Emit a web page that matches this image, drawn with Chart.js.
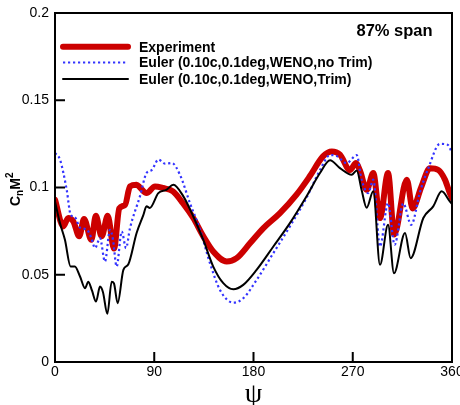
<!DOCTYPE html>
<html>
<head>
<meta charset="utf-8">
<script src="https://cdn.jsdelivr.net/npm/chart.js"></script>
<style>
  body { margin: 0; padding: 0; background: #fff; }
  canvas { display: block; }
</style>
</head>
<body>
<canvas id="chart" width="460" height="405"></canvas>
<script>
// azimuth (deg) and CnM^2
const psiExp = [0, 7.5, 12, 16.6, 22, 26.3, 33, 37, 42.3, 47.8, 53.5, 58.3, 63.5, 68, 74, 77, 83, 90.7, 98, 107, 116, 125.4, 134.5, 143.5, 155.7, 164.7, 176.8, 189, 204, 219, 231, 243, 251, 258.4, 267.5, 273, 276.6, 282.6, 288.6, 294.7, 302, 307.6, 319, 324.3, 332, 340, 347.6, 353.6, 358, 360];
const cnExp = [0.093, 0.0777, 0.0825, 0.0806, 0.072, 0.082, 0.070, 0.0838, 0.072, 0.0838, 0.065, 0.088, 0.090, 0.1006, 0.1016, 0.100, 0.0968, 0.1006, 0.0997, 0.0978, 0.091, 0.0825, 0.072, 0.0633, 0.0576, 0.0595, 0.068, 0.0767, 0.0853, 0.0959, 0.1064, 0.1178, 0.1207, 0.1188, 0.110, 0.114, 0.1096, 0.0987, 0.1083, 0.0825, 0.1083, 0.073, 0.1045, 0.088, 0.100, 0.111, 0.110, 0.1045, 0.0968, 0.094];

const psiNoTrim = [0, 4.5, 10.6, 14.2, 18, 22.7, 28.7, 33, 36.3, 40.8, 45.3, 49.9, 52.6, 55.9, 60.5, 64.4, 68, 77, 83, 87.7, 93.7, 100, 106, 113.3, 122.4, 131.5, 140.5, 149.6, 161.7, 170.7, 182.8, 198, 213, 228, 240.3, 249.4, 255.5, 264.5, 273.6, 278, 284, 288.6, 294.7, 302, 308, 315.8, 323, 331, 338.5, 349, 356, 360];
const cnNoTrim = [0.1198, 0.116, 0.0987, 0.0844, 0.083, 0.077, 0.076, 0.071, 0.0653, 0.071, 0.0576, 0.0758, 0.070, 0.0547, 0.0748, 0.0653, 0.0767, 0.0949, 0.1083, 0.110, 0.116, 0.1136, 0.114, 0.1073, 0.091, 0.0758, 0.0567, 0.0413, 0.034, 0.0365, 0.047, 0.0624, 0.0777, 0.094, 0.110, 0.1186, 0.118, 0.114, 0.1186, 0.1045, 0.0968, 0.1045, 0.0662, 0.091, 0.0672, 0.0909, 0.0786, 0.0975, 0.111, 0.125, 0.1245, 0.120];

const psiTrim = [0, 4.5, 9, 14.2, 18, 22.7, 27.2, 30.2, 33.5, 37.2, 40.8, 43.5, 47.5, 51.4, 53.5, 56.8, 62, 66.5, 74, 80, 83, 86, 93.7, 101, 107.3, 116.4, 125.4, 134.5, 143.5, 152.6, 161.7, 170.7, 182.8, 198, 213, 228, 240.3, 249.4, 258.4, 269, 273.6, 278, 282.6, 288.6, 294.7, 302, 307.4, 317.4, 322.5, 334, 343, 350.6, 358, 360];
const cnTrim = [0.092, 0.0796, 0.070, 0.0547, 0.0547, 0.049, 0.0423, 0.046, 0.041, 0.0346, 0.0432, 0.040, 0.0276, 0.046, 0.045, 0.0337, 0.0528, 0.056, 0.0739, 0.084, 0.0892, 0.0883, 0.0968, 0.0987, 0.1016, 0.0949, 0.0834, 0.070, 0.0547, 0.0452, 0.0417, 0.0442, 0.0528, 0.0662, 0.0796, 0.0949, 0.1083, 0.1156, 0.1111, 0.1073, 0.1098, 0.0987, 0.0884, 0.0978, 0.0557, 0.0786, 0.0509, 0.0739, 0.0595, 0.0825, 0.0892, 0.0978, 0.092, 0.0905];

const seriesLabels = ['Experiment', 'Euler (0.10c,0.1deg,WENO,no Trim)', 'Euler (0.10c,0.1deg,WENO,Trim)'];
const xTicks = [0, 90, 180, 270, 360];
const yTicks = [0, 0.05, 0.1, 0.15, 0.2];

const pts = (xs, ys) => xs.map((x, i) => ({ x: x, y: ys[i] }));

// frame, inward ticks, legend and axis titles
const decor = {
  id: 'decor',
  afterDatasetsDraw(chart) {
    const { ctx, chartArea: a, scales } = chart;
    ctx.save();
    ctx.strokeStyle = '#000';
    ctx.lineWidth = 2;
    ctx.strokeRect(a.left, a.top, a.right - a.left, a.bottom - a.top);

    ctx.beginPath();
    xTicks.slice(1, -1).forEach(v => {
      const x = scales.x.getPixelForValue(v);
      ctx.moveTo(x, a.bottom);
      ctx.lineTo(x, a.bottom - 10);
    });
    yTicks.slice(0, -1).forEach(v => {
      const y = scales.y.getPixelForValue(v);
      ctx.moveTo(a.left, y);
      ctx.lineTo(a.left + 10, y);
    });
    ctx.stroke();

    // legend
    const rows = [46.7, 62.5, 79];
    chart.data.datasets.forEach((ds, i) => {
      ctx.beginPath();
      ctx.strokeStyle = ds.borderColor;
      ctx.lineWidth = ds.borderWidth;
      ctx.lineCap = ds.borderDash ? 'butt' : 'round';
      ctx.setLineDash(ds.borderDash || []);
      ctx.moveTo(63, rows[i]);
      ctx.lineTo(128, rows[i]);
      ctx.stroke();
      ctx.setLineDash([]);
      ctx.fillStyle = '#000';
      ctx.font = 'bold 14px "Liberation Sans", Arial, sans-serif';
      ctx.textBaseline = 'middle';
      ctx.textAlign = 'left';
      ctx.fillText(ds.label, 139, rows[i] + 1);
    });

    ctx.font = 'bold 16.5px "Liberation Sans", Arial, sans-serif';
    ctx.textBaseline = 'middle';
    ctx.fillText('87% span', 356.5, 31);

    // x title
    ctx.font = '28px "Liberation Serif", "DejaVu Serif", serif';
    ctx.textAlign = 'center';
    ctx.textBaseline = 'alphabetic';
    ctx.fillText('\u03C8', (a.left + a.right) / 2, 402);

    // y title: C_n M^2, rotated
    ctx.translate(20, 206);
    ctx.rotate(-Math.PI / 2);
    ctx.textAlign = 'left';
    let x = 0;
    const part = (t, font, dy) => {
      ctx.font = font;
      ctx.fillText(t, x, dy);
      x += ctx.measureText(t).width;
    };
    part('C', 'bold 14px "Liberation Sans", Arial, sans-serif', 0);
    part('n', 'bold 10px "Liberation Sans", Arial, sans-serif', 3);
    part('M', 'bold 14px "Liberation Sans", Arial, sans-serif', 0);
    part('2', 'bold 10px "Liberation Sans", Arial, sans-serif', -7);
    ctx.restore();
  }
};

const tickFont = { family: '"Liberation Sans", Arial, sans-serif', size: 14 };

new Chart(document.getElementById('chart'), {
  type: 'line',
  data: {
    datasets: [
      {
        label: seriesLabels[0],
        data: pts(psiExp, cnExp),
        borderColor: '#cc0000',
        borderWidth: 6,
        borderCapStyle: 'round',
        order: 3
      },
      {
        label: seriesLabels[1],
        data: pts(psiNoTrim, cnNoTrim),
        borderColor: '#3333ff',
        borderWidth: 2.2,
        borderDash: [2.2, 2.8],
        borderCapStyle: 'butt',
        order: 2
      },
      {
        label: seriesLabels[2],
        data: pts(psiTrim, cnTrim),
        borderColor: '#000000',
        borderWidth: 2,
        borderCapStyle: 'round',
        order: 1
      }
    ]
  },
  options: {
    responsive: false,
    animation: false,
    events: [],
    layout: { padding: { top: 13, right: 8, bottom: 0, left: 0 } },
    elements: {
      point: { radius: 0 },
      line: { cubicInterpolationMode: 'monotone', fill: false, borderJoinStyle: 'round' }
    },
    plugins: { legend: { display: false }, tooltip: { enabled: false } },
    scales: {
      x: {
        type: 'linear',
        min: 0,
        max: 360,
        grid: { display: false, drawTicks: false },
        border: { display: false },
        afterBuildTicks: s => { s.ticks = xTicks.map(v => ({ value: v })); },
        ticks: { color: '#000', font: tickFont, padding: 2, maxRotation: 0, callback: v => String(v) },
        afterFit: s => { s.height = 43; s.paddingLeft = 0; s.paddingRight = 0; }
      },
      y: {
        min: 0,
        max: 0.2,
        grid: { display: false, drawTicks: false },
        border: { display: false },
        afterBuildTicks: s => { s.ticks = yTicks.map(v => ({ value: v })); },
        ticks: { color: '#000', font: tickFont, padding: 6, callback: v => String(+v.toFixed(2)) },
        afterFit: s => { s.width = 55; s.paddingTop = 0; s.paddingBottom = 0; }
      }
    }
  },
  plugins: [decor]
});
</script>
</body>
</html>
